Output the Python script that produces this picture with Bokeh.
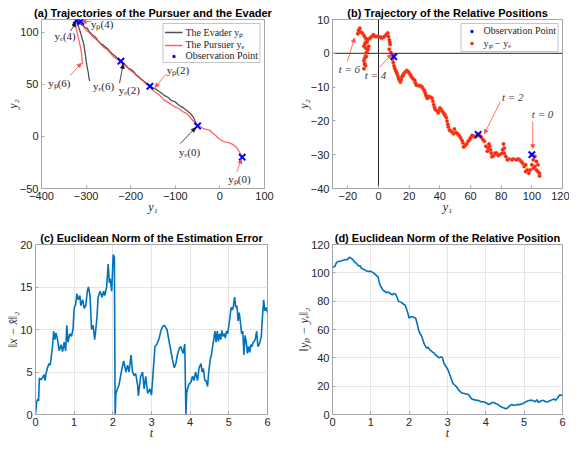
from bokeh.plotting import figure
from bokeh.layouts import row, column
from bokeh.models import (Arrow, NormalHead, Label, Span, Legend, LegendItem,
                          FixedTicker, Range1d)
from bokeh.embed import file_html
from bokeh.resources import INLINE

# ---------------- data ----------------
# (a) trajectories
evader_x = [-50, -54, -59, -66, -72, -78, -84, -89, -95, -100,
            -106, -111, -115, -119, -124, -130, -136, -141, -147, -152,
            -157, -163, -168, -171, -177, -182, -188, -193, -199, -205,
            -211, -216, -222, -228, -235, -241, -246, -252, -258, -263,
            -268, -274, -279, -285, -290, -294, -298, -302, -306, -310,
            -314, -318, -322, -317, -313, -309, -305, -303, -301, -299,
            -297, -295, -294, -292]
evader_y = [10, 13, 18, 22, 24, 26, 28, 29, 31, 33,
            34, 35, 37, 38, 39, 41, 43, 44.5, 46, 47,
            49, 50, 52, 53, 55, 57, 59, 62, 64, 65,
            68, 70, 72, 74, 77, 79, 81, 84, 86, 88,
            89, 92, 95, 97, 99, 101, 104, 104, 106, 107,
            108, 109, 111, 105, 100, 94, 88, 82, 76, 70,
            65, 61, 57, 53]
pursuer_x = [50, 44, 38, 30, 20, 8, -3, -10, -16, -22,
             -28, -33, -39, -44, -50, -56, -63, -68, -74, -80,
             -85, -90, -96, -104, -111, -118, -126, -132, -137, -143,
             -149, -153, -157, -165, -172, -178, -186, -193, -200, -207,
             -213, -219, -225, -231, -238, -244, -250, -255, -260, -266,
             -272, -277, -283, -288, -293, -298, -302, -305, -309, -312,
             -316, -320, -324, -322, -319, -316, -314, -312, -310, -309,
             -308]
pursuer_y = [-20, -15, -11, -8, -6, -5, -2, 1, 3, 5.6,
             6.5, 7, 8, 9, 10, 13, 16.4, 19, 21.8, 23,
             24.3, 26, 27.4, 29, 31, 33, 35, 38, 40, 42,
             43.5, 46, 48, 50, 53, 55, 58, 61, 63, 66,
             68, 69.5, 72, 74, 76, 79, 82, 84, 85, 88,
             91, 93, 94.5, 97, 99.5, 101, 103, 105, 107, 110,
             111, 111, 108, 103, 97, 92, 88, 84, 79, 74,
             69]
# observation points at t = 0, 2, 4
obs_p_x = [50, -157, -312]
obs_p_y = [-20, 48, 110]
obs_e_x = [-50, -222, -322]
obs_e_y = [10, 72, 111]

# (b) relative position y_p - y_e
rel_x = [100, 101, 102, 103, 104, 103, 105, 105, 104, 102,
         101, 100, 99, 98, 97, 96, 95, 96, 94, 93,
         92, 91, 90, 88, 87, 85, 84, 83, 82, 82,
         81.5, 81, 80.5, 79, 78, 77, 76, 75, 74, 73.5,
         73, 72.5, 72, 71.5, 71, 70, 69, 68, 67, 66,
         65, 64, 63, 62, 61, 60, 59.5, 58.5, 57.5, 56.5,
         55.5, 55, 54.5, 53.5, 52.5, 51.5, 50.5, 49.5, 49, 48,
         47, 46.3, 45.5, 45.2, 44.7, 44.2, 43.5, 43.2, 42.3, 41.5,
         40.8, 40.1, 39.5, 39, 38, 37, 36.5, 36, 35.5, 34.9,
         34, 32.9, 32, 31.8, 31.3, 30.8, 30.3, 29.8, 29, 28.3,
         27.5, 26.7, 25.6, 24.6, 24, 23.6, 22.5, 21.5, 20.8, 20,
         19.2, 18.4, 17.3, 16.3, 15.8, 15.3, 14.8, 14.3, 13.7, 13.2,
         12.7, 12.2, 11.7, 11.2, 10.6, 10.1, 9.6, 9.1, 9.5, 10,
         8, 7, 7.6, 7.3, 7, 6.5, 6, 5, 3.9, 3,
         1.9, 1, -0.2, -1.2, -2.3, -3.3, -4.4, -5.4, -6.4, -7.4,
         -8, -8.5, -9, -9.5, -8.4, -7.4, -8, -8.5, -9, -9.5,
         -9, -8.5, -9.5, -9, -8, -7.4, -6.8, -6.4, -7.5, -8.5,
         -9.5, -10.5, -11.5, -12.6, -12.2, -13, -13.5]
rel_y = [-30, -31.5, -30.5, -32, -33, -34.5, -35.5, -36.3, -35, -33.5,
         -34, -33, -34.5, -35.5, -34.5, -35, -33.5, -33, -32.5, -32,
         -31.5, -31.3, -31.5, -31.3, -31.5, -31.3, -31.5, -30.5, -29.6, -28,
         -26.8, -28.5, -29.6, -30, -30.2, -29.5, -29.6, -30.3, -30.6, -29.5,
         -28.5, -27.5, -26.8, -28, -29, -27.5, -26, -25.5, -24.8, -24.3,
         -24, -24.5, -24.8, -24.5, -24.3, -25, -25.5, -26, -26.8, -27.3,
         -27.7, -26.5, -25.8, -25, -24.3, -23.8, -23.4, -22.4, -23.8, -23.3,
         -23, -22.7, -21.8, -21, -20, -19, -18.5, -18.1, -17.6, -17.1,
         -16.6, -16.2, -17, -17.6, -17, -16.6, -16, -15.2, -14.2, -13.3,
         -13, -12.8, -13.2, -13.3, -12.8, -12.3, -11.6, -10.9, -10.4, -9.9,
         -9.7, -9.6, -9.5, -9.4, -8.7, -8, -7.5, -7, -6.4, -5.8,
         -5.4, -5.1, -5.6, -6.1, -6.6, -7, -7.8, -8.5, -8, -7.5,
         -6.8, -6.1, -5.6, -5.1, -4.4, -3.7, -2.7, -1.7, -1, -0.8,
         0.2, 1.2, 2.6, 3.3, 4, 5, 6, 5.5, 5, 4.7,
         4.5, 4.8, 5, 5, 5, 5.5, 5, 4.5, 4.2, 4,
         3.5, 3.1, 2.6, 2.1, 1.6, 1.2, 0.2, -0.8, -1.5, -2.2,
         -3, -3.7, -4.6, -3.2, -1, 0.2, 1.2, 2.1, 3.3, 4.5,
         5.3, 6, 6.2, 6.4, 7.4, 6.8, 5.8]

# (c) estimation error norm
err_t = [0, 0.03, 0.06, 0.08, 0.1, 0.14, 0.18, 0.22, 0.25, 0.27,
         0.31, 0.35, 0.38, 0.4, 0.44, 0.47, 0.5, 0.53, 0.57, 0.61,
         0.66, 0.7, 0.74, 0.78, 0.81, 0.84, 0.89, 0.93, 0.97, 1.0,
         1.04, 1.07, 1.11, 1.15, 1.17, 1.22, 1.26, 1.3, 1.34, 1.37,
         1.41, 1.45, 1.49, 1.53, 1.56, 1.59, 1.62, 1.67, 1.72, 1.76,
         1.79, 1.84, 1.88, 1.91, 1.93, 1.97, 2.01, 2.04, 2.06, 2.08,
         2.12, 2.16, 2.22, 2.28, 2.34, 2.38, 2.42, 2.47, 2.51, 2.55,
         2.59, 2.64, 2.66, 2.72, 2.77, 2.81, 2.85, 2.9, 2.96, 3.0,
         3.05, 3.09, 3.13, 3.16, 3.2, 3.24, 3.28, 3.33, 3.37, 3.4,
         3.46, 3.5, 3.54, 3.59, 3.63, 3.67, 3.72, 3.76, 3.79, 3.82,
         3.86, 3.89, 3.91, 3.93, 3.97, 4.02, 4.06, 4.1, 4.14, 4.19,
         4.23, 4.28, 4.31, 4.34, 4.38, 4.41, 4.45, 4.48, 4.52, 4.55,
         4.58, 4.61, 4.64, 4.67, 4.7, 4.73, 4.76, 4.79, 4.82, 4.85,
         4.88, 4.91, 4.94, 4.97, 5.0, 5.03, 5.06, 5.09, 5.12, 5.15,
         5.18, 5.21, 5.24, 5.27, 5.3, 5.33, 5.36, 5.39, 5.42, 5.45,
         5.48, 5.51, 5.54, 5.57, 5.6, 5.63, 5.66, 5.69, 5.72, 5.75,
         5.78, 5.81, 5.84, 5.87, 5.9, 5.93, 5.96, 6.0]
err_v = [0, 1.5, 1.8, 1.6, 4.3, 4.1, 4.3, 4.7, 4.0, 4.8,
         5.5, 6.0, 5.8, 6.5, 8.0, 9.8, 8.8, 9.6, 8.8, 7.5,
         8.2, 7.4, 8.5, 7.5, 10.5, 8.5, 9.5, 9.2, 10.0, 12.5,
         13.0, 14.2, 13.5, 14.0, 12.8, 13.5, 12.5, 12.8, 14.5, 15.0,
         14.0, 10.0, 10.5, 8.8, 10.0, 11.5, 13.8, 14.5, 13.8, 14.5,
         14.0, 15.0, 17.7, 15.5, 16.0, 14.5, 18.8, 18.5, 0, 2.5,
         3.0, 3.5, 5.0, 6.3, 5.0, 5.8, 5.0, 7.0, 5.0, 4.6,
         4.8, 3.5, 2.2, 4.5, 5.0, 3.0, 4.5, 2.5, 3.0, 2.3,
         5.5, 8.0, 8.2, 8.5, 9.0, 9.8, 10.3, 10.5, 10.2, 10.0,
         8.5, 7.5, 6.5, 5.5, 6.0, 7.0, 7.8, 8.0, 7.5, 7.2,
         8.3, 0, 2.5, 3.0, 3.6, 3.8, 4.5, 4.0, 5.0, 4.0,
         5.5, 6.0, 5.0, 5.4, 4.0, 4.0, 3.3, 5.0, 6.5, 7.0,
         8.0, 8.8, 9.8, 8.5, 9.8, 8.6, 9.5, 8.8, 9.9, 9.2,
         9.5, 9.0, 9.8, 9.5, 10.5, 11.5, 12.6, 12.3, 12.8, 13.8,
         12.6, 12.8, 11.0, 12.0, 10.8, 9.5, 9.8, 7.0, 9.3, 8.6,
         7.2, 8.0, 7.3, 8.2, 8.0, 8.5, 8.6, 9.0, 9.8, 8.0,
         8.2, 8.6, 9.2, 11.5, 13.5, 12.2, 12.6, 12.0]

# (d) relative position norm
nrm_t = [0, 0.06, 0.1, 0.14, 0.18, 0.24, 0.3, 0.34, 0.38, 0.44,
         0.5, 0.54, 0.58, 0.62, 0.67, 0.72, 0.76, 0.82, 0.87, 0.95,
         1.0, 1.07, 1.15, 1.19, 1.23, 1.27, 1.31, 1.36, 1.4, 1.44,
         1.48, 1.52, 1.56, 1.6, 1.64, 1.68, 1.72, 1.76, 1.8, 1.85,
         1.9, 1.96, 2.0, 2.04, 2.09, 2.13, 2.17, 2.21, 2.25, 2.29,
         2.33, 2.39, 2.45, 2.49, 2.53, 2.57, 2.61, 2.65, 2.69, 2.74,
         2.78, 2.82, 2.86, 2.91, 2.98, 3.02, 3.06, 3.1, 3.14, 3.18,
         3.22, 3.26, 3.3, 3.34, 3.38, 3.42, 3.47, 3.51, 3.55, 3.59,
         3.63, 3.69, 3.75, 3.81, 3.87, 3.93, 3.99, 4.03, 4.07, 4.12,
         4.16, 4.2, 4.24, 4.28, 4.32, 4.36, 4.4, 4.44, 4.48, 4.54,
         4.6, 4.64, 4.68, 4.72, 4.76, 4.82, 4.89, 4.95, 5.01, 5.05,
         5.09, 5.15, 5.21, 5.25, 5.29, 5.33, 5.37, 5.43, 5.5, 5.56,
         5.62, 5.66, 5.7, 5.74, 5.78, 5.82, 5.88, 5.93, 5.97, 6.0]
nrm_v = [104, 104.5, 107, 108, 108, 108.5, 109, 109.5, 109, 111,
         110, 109, 107.5, 107, 105, 105, 103, 102.5, 101.5, 101,
         101, 100, 98, 97, 92, 90, 88, 87, 86, 86.5,
         86, 85, 84.5, 85.5, 85, 83, 80, 79.5, 79, 78,
         77, 72, 68, 69, 69, 68.5, 68, 64, 59, 57,
         55, 50, 47, 47.5, 46, 45, 44, 43.5, 42, 41,
         40, 40.5, 40.5, 36, 33, 31, 28, 25, 22, 21,
         20, 18.5, 17, 16, 15, 15, 14.5, 14.5, 14, 12.5,
         11, 10.5, 10, 10, 9, 9, 8.5, 8, 7, 7.5,
         8.5, 8.5, 8, 7.5, 7, 6, 5.5, 5, 4.5, 4,
         5.5, 6.5, 7, 6.5, 6.5, 7, 7, 7.5, 8.5, 9,
         9.5, 10, 10, 9.5, 9, 10.5, 8.5, 9.5, 10, 9,
         9, 9.5, 10, 10.5, 11, 10, 12, 14, 13.5, 13.5]

# tick values
a_xticks = [-400, -300, -200, -100, 0, 100]
a_yticks = [-50, 0, 50, 100]
b_xticks = [-20, 0, 20, 40, 60, 80, 100, 120]
b_yticks = [-40, -30, -20, -10, 0, 10]
t_ticks = [0, 1, 2, 3, 4, 5, 6]
c_yticks = [0, 5, 10, 15, 20]
d_yticks = [0, 20, 40, 60, 80, 100, 120]

# annotations of panel (a): text, label position, arrow start/end, colour
ann_a_text = ["yₚ(4)", "yₑ(4)", "yₚ(6)", "yₑ(6)", "yₑ(2)", "yₚ(2)", "yₑ(0)", "yₚ(0)"]
ann_a_lx = [-264, -347, -360, -261, -203, -94, -68, 44]
ann_a_ly = [108, 96, 51, 48, 44, 64, -15, -41]
ann_a_x0 = [-288, -335, -335, None, -225, -120, -89, 38]
ann_a_y0 = [110, 101, 58.5, None, 51, 60, -7, -34]
ann_a_x1 = [-309, -323, -311, None, -217, -145, -55, 48]
ann_a_y1 = [110, 109, 70, None, 69, 47, 8, -22]
ann_a_col = ["red", "black", "red", "black", "black", "red", "black", "red"]

# annotations of panel (b)
ann_b_text = ["t = 0", "t = 2", "t = 4", "t = 6"]
ann_b_lx = [107, 87.5, -2, -19]
ann_b_ly = [-18, -12.8, -6.4, -4.6]
ann_b_x0 = [100.6, 79.4, 0.8, -20.3]
ann_b_y0 = [-20.2, -14.4, -4.1, -2.4]
ann_b_x1 = [100.6, 69, 8.4, -15.7]
ann_b_y1 = [-28.2, -23.8, -0.3, 4.5]

# ---------------- styling ----------------
AX = "#a6a6a6"
TXT = "#262626"
SANS = "Liberation Sans"
SERIF = "Liberation Serif"
RED_ARROW = "#ff4d4d"
COLS = {"red": RED_ARROW, "black": "#1a1a1a"}


def make_fig(w, h, xr, yr, title, mbl, mbr, mbt, mbb, xt, yt, xlabel, ylabel, grid):
    p = figure(width=w, height=h, x_range=Range1d(*xr), y_range=Range1d(*yr),
               output_backend="svg", toolbar_location=None, margin=(0, 0, 0, 0),
               min_border_left=mbl, min_border_right=mbr,
               min_border_top=mbt, min_border_bottom=mbb)
    p.title.text = title
    p.title.text_font = SANS
    p.title.text_font_size = "11px"
    p.title.text_font_style = "bold"
    p.title.text_color = "#000000"
    p.title.align = "center"
    p.title.standoff = 1
    p.outline_line_color = AX
    p.outline_line_width = 1
    p.xaxis.ticker = FixedTicker(ticks=xt)
    p.yaxis.ticker = FixedTicker(ticks=yt)
    p.xaxis.axis_label = xlabel
    p.yaxis.axis_label = ylabel
    for ax in (p.xaxis[0], p.yaxis[0]):
        ax.axis_line_color = AX
        ax.major_tick_line_color = AX
        ax.major_tick_in = 3
        ax.major_tick_out = 0
        ax.minor_tick_line_color = None
        ax.major_label_text_font = SANS
        ax.major_label_text_font_size = "11px"
        ax.major_label_text_color = TXT
        ax.major_label_standoff = 3
        ax.axis_label_text_font = SERIF
        ax.axis_label_text_font_style = "italic"
        ax.axis_label_text_font_size = "12px"
        ax.axis_label_text_color = TXT
        ax.axis_label_standoff = -3
    if grid:
        p.grid.grid_line_color = "#e6e6e6"
        p.grid.grid_line_width = 1
    else:
        p.grid.visible = False
    return p


def style_legend(leg):
    leg.label_text_font = SERIF
    leg.label_text_font_size = "10px"
    leg.label_text_color = TXT
    leg.glyph_width = 18
    leg.glyph_height = 8
    leg.label_height = 8
    leg.label_standoff = 3
    leg.spacing = 0
    leg.padding = 1
    leg.margin = 4
    leg.border_line_color = "#8c8c8c"
    leg.border_line_width = 1
    leg.background_fill_color = "white"
    leg.background_fill_alpha = 1


# ---------------- (a) ----------------
pa = make_fig(292, 219, (-400, 100), (-50, 112),
              "(a) Trajectories of the Pursuer and the Evader",
              41, 28, 19, 31, a_xticks, a_yticks, "y₁", "y₂", False)
r_ev = pa.line(evader_x, evader_y, line_color="#333333", line_width=1.3, line_alpha=0.85)
r_pu = pa.line(pursuer_x, pursuer_y, line_color="#ff3b3b", line_width=1.3, line_alpha=0.8)
r_obs = pa.scatter(obs_p_x + obs_e_x, obs_p_y + obs_e_y, marker="x", size=9,
                   line_color="#0000ff", line_width=2)
for i, txt in enumerate(ann_a_text):
    col = COLS[ann_a_col[i]]
    if ann_a_x0[i] is not None:
        pa.add_layout(Arrow(x_start=ann_a_x0[i], y_start=ann_a_y0[i],
                            x_end=ann_a_x1[i], y_end=ann_a_y1[i],
                            line_color=col, line_width=0.8,
                            end=NormalHead(size=4, fill_color=col, line_color=col,
                                           line_width=0.8)))
    pa.add_layout(Label(x=ann_a_lx[i], y=ann_a_ly[i], text=txt,
                        text_font=SERIF, text_font_size="11px", text_color=TXT,
                        text_align="center", text_baseline="middle"))
leg_a = Legend(items=[LegendItem(label="The Evader yₚ", renderers=[r_ev]),
                      LegendItem(label="The Pursuer yₑ", renderers=[r_pu]),
                      LegendItem(label="Observation Point", renderers=[r_obs])],
               location="top_right")
style_legend(leg_a)
pa.add_layout(leg_a)

# ---------------- (b) ----------------
pb = make_fig(277, 219, (-30, 120), (-40, 10),
              "(b) Trajectory of the Relative Positions",
              40, 7, 19, 31, b_xticks, b_yticks, "y₁", "y₂", False)
pb.add_layout(Span(location=0, dimension="height", line_color=TXT, line_width=1, level="underlay"))
pb.add_layout(Span(location=0, dimension="width", line_color=TXT, line_width=1, level="underlay"))
r_rel = pb.scatter(rel_x, rel_y, marker="circle", size=3.5, fill_color="#ff1a1a",
                   line_color="#e8641e", line_width=0.5)
rel_obs_x = [p - e for p, e in zip(obs_p_x, obs_e_x)]
rel_obs_y = [p - e for p, e in zip(obs_p_y, obs_e_y)]
r_obs_b = pb.scatter(rel_obs_x, rel_obs_y, marker="x", size=9,
                     line_color="#0000ff", line_width=2)
for i, txt in enumerate(ann_b_text):
    pb.add_layout(Arrow(x_start=ann_b_x0[i], y_start=ann_b_y0[i],
                        x_end=ann_b_x1[i], y_end=ann_b_y1[i],
                        line_color=RED_ARROW, line_width=0.8,
                        end=NormalHead(size=4, fill_color=RED_ARROW, line_color=RED_ARROW,
                                       line_width=0.8)))
    pb.add_layout(Label(x=ann_b_lx[i], y=ann_b_ly[i], text=txt,
                        text_font=SERIF, text_font_size="11px", text_color="#404040",
                        text_font_style="italic",
                        text_align="center", text_baseline="middle"))
leg_b = Legend(items=[LegendItem(label="Observation Point", renderers=[r_obs_b]),
                      LegendItem(label="yₚ − yₑ", renderers=[r_rel])],
               location="top_right")
style_legend(leg_b)
pb.add_layout(leg_b)

# ---------------- (c) ----------------
pc = make_fig(292, 226, (0, 6), (0, 20),
              "(c) Euclidean Norm of the Estimation Error",
              35, 25, 25, 31, t_ticks, c_yticks, "t", "‖x − x̂‖₂", True)
pc.line(err_t, err_v, line_color="#0072bd", line_width=1.6)

# ---------------- (d) ----------------
pd_ = make_fig(277, 226, (0, 6), (0, 120),
               "(d) Euclidean Norm of the Relative Position",
               40, 7, 25, 31, t_ticks, d_yticks, "t", "‖yₚ − yₑ‖₂", True)
pd_.line(nrm_t, nrm_v, line_color="#0072bd", line_width=1.6)

layout = column(row(pa, pb, spacing=0, margin=(0, 0, 0, 0)),
                row(pc, pd_, spacing=0, margin=(0, 0, 0, 0)),
                spacing=0, margin=(0, 0, 0, 0))
open("out.html", "w").write(file_html(layout, INLINE))
